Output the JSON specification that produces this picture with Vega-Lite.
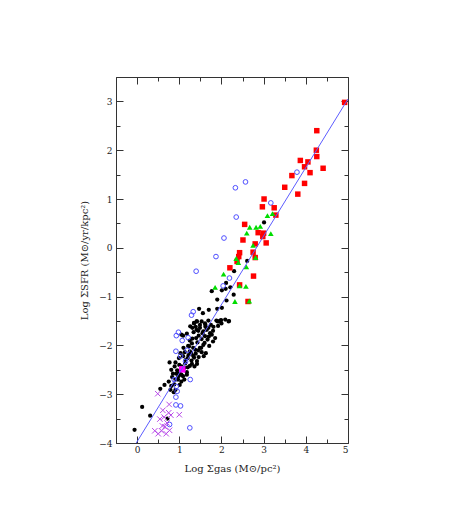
{
  "$schema": "https://vega.github.io/schema/vega-lite/v6.json",
  "width": 232,
  "height": 366,
  "autosize": "none",
  "padding": {"left": 116, "top": 77, "right": 115, "bottom": 80},
  "background": "white",
  "config": {
    "view": {"stroke": "#333333", "strokeWidth": 1},
    "axis": {
      "labelFont": "DejaVu Serif",
      "titleFont": "DejaVu Serif",
      "labelFontSize": 9,
      "titleFontSize": 10,
      "titleFontWeight": "normal",
      "labelColor": "#222222",
      "titleColor": "#222222",
      "tickColor": "#333333",
      "tickWidth": 1,
      "domain": false,
      "grid": false
    }
  },
  "resolve": {"axis": {"x": "independent", "y": "independent"}},
  "datasets": {
    "pts": [
      {"g": "r", "x": 4.92, "y": 2.98}, {"g": "r", "x": 4.26, "y": 2.40}, {"g": "r", "x": 4.25, "y": 2.00}, {"g": "r", "x": 4.26, "y": 1.87},
      {"g": "r", "x": 4.41, "y": 1.63}, {"g": "r", "x": 3.87, "y": 1.79}, {"g": "r", "x": 4.05, "y": 1.76}, {"g": "r", "x": 3.97, "y": 1.66},
      {"g": "r", "x": 4.10, "y": 1.54}, {"g": "r", "x": 3.67, "y": 1.48}, {"g": "r", "x": 3.97, "y": 1.32}, {"g": "r", "x": 3.50, "y": 1.24},
      {"g": "r", "x": 3.81, "y": 1.10}, {"g": "r", "x": 3.01, "y": 1.00}, {"g": "r", "x": 2.97, "y": 0.84}, {"g": "r", "x": 3.25, "y": 0.82},
      {"g": "r", "x": 2.55, "y": 0.48}, {"g": "r", "x": 2.87, "y": 0.31}, {"g": "r", "x": 3.00, "y": 0.30}, {"g": "r", "x": 2.98, "y": 0.23},
      {"g": "r", "x": 2.51, "y": 0.16}, {"g": "r", "x": 3.06, "y": 0.10}, {"g": "r", "x": 2.80, "y": 0.08}, {"g": "r", "x": 2.75, "y": -0.09},
      {"g": "r", "x": 2.43, "y": -0.10}, {"g": "r", "x": 2.41, "y": -0.18}, {"g": "r", "x": 2.37, "y": -0.28}, {"g": "r", "x": 2.20, "y": -0.41},
      {"g": "r", "x": 2.76, "y": -0.58}, {"g": "r", "x": 2.43, "y": -0.76}, {"g": "r", "x": 2.63, "y": -1.10}, {"g": "r", "x": 2.80, "y": -0.20},
      {"g": "r", "x": 3.29, "y": 0.67},
      {"g": "k", "x": 3.01, "y": 0.52}, {"g": "k", "x": 2.61, "y": -0.27}, {"g": "k", "x": 2.30, "y": -0.48}, {"g": "k", "x": 2.11, "y": -0.72},
      {"g": "k", "x": 2.21, "y": -0.81}, {"g": "k", "x": 1.77, "y": -0.89}, {"g": "k", "x": 2.01, "y": -0.87}, {"g": "k", "x": 2.10, "y": -0.84},
      {"g": "k", "x": 2.29, "y": -0.96}, {"g": "k", "x": 1.90, "y": -1.06}, {"g": "k", "x": 2.12, "y": -1.08}, {"g": "k", "x": 2.01, "y": -1.23},
      {"g": "k", "x": 1.90, "y": -1.25}, {"g": "k", "x": 1.70, "y": -1.27}, {"g": "k", "x": 1.47, "y": -1.25}, {"g": "k", "x": 1.56, "y": -1.34},
      {"g": "k", "x": 1.99, "y": -1.48}, {"g": "k", "x": 1.94, "y": -1.51}, {"g": "k", "x": 1.91, "y": -1.51}, {"g": "k", "x": 2.17, "y": -1.51},
      {"g": "k", "x": 1.41, "y": -1.51}, {"g": "k", "x": 1.35, "y": -1.55}, {"g": "k", "x": 1.62, "y": -1.58}, {"g": "k", "x": 1.81, "y": -1.62},
      {"g": "k", "x": 1.31, "y": -1.64}, {"g": "k", "x": 1.39, "y": -1.62}, {"g": "k", "x": 1.69, "y": -1.64},
      {"g": "k", "x": 1.26, "y": -1.61}, {"g": "k", "x": 1.35, "y": -1.54}, {"g": "k", "x": 1.42, "y": -1.51}, {"g": "k", "x": 1.49, "y": -1.58},
      {"g": "k", "x": 1.53, "y": -1.51}, {"g": "k", "x": 1.61, "y": -1.55}, {"g": "k", "x": 1.69, "y": -1.49}, {"g": "k", "x": 1.75, "y": -1.58},
      {"g": "k", "x": 1.88, "y": -1.49}, {"g": "k", "x": 1.98, "y": -1.49}, {"g": "k", "x": 2.09, "y": -1.47}, {"g": "k", "x": 2.18, "y": -1.50},
      {"g": "k", "x": 1.05, "y": -1.78}, {"g": "k", "x": 1.18, "y": -1.76}, {"g": "k", "x": 1.34, "y": -1.73}, {"g": "k", "x": 1.41, "y": -1.68},
      {"g": "k", "x": 1.49, "y": -1.64}, {"g": "k", "x": 1.57, "y": -1.71}, {"g": "k", "x": 1.65, "y": -1.68}, {"g": "k", "x": 1.73, "y": -1.75},
      {"g": "k", "x": 1.77, "y": -1.78}, {"g": "k", "x": 1.61, "y": -1.81}, {"g": "k", "x": 1.46, "y": -1.80}, {"g": "k", "x": 1.53, "y": -1.87},
      {"g": "k", "x": 1.67, "y": -1.88}, {"g": "k", "x": 1.80, "y": -1.92}, {"g": "k", "x": 1.31, "y": -1.86}, {"g": "k", "x": 1.43, "y": -1.94},
      {"g": "k", "x": 1.30, "y": -1.96}, {"g": "k", "x": 1.21, "y": -2.01}, {"g": "k", "x": 1.57, "y": -1.99}, {"g": "k", "x": 1.71, "y": -2.01},
      {"g": "k", "x": 1.49, "y": -2.05}, {"g": "k", "x": 1.38, "y": -2.09}, {"g": "k", "x": 1.25, "y": -2.12}, {"g": "k", "x": 1.13, "y": -2.14},
      {"g": "k", "x": 1.03, "y": -2.16}, {"g": "k", "x": 1.39, "y": -2.17}, {"g": "k", "x": 1.53, "y": -2.14}, {"g": "k", "x": 1.63, "y": -2.16},
      {"g": "k", "x": 1.58, "y": -2.22}, {"g": "k", "x": 1.46, "y": -2.24}, {"g": "k", "x": 1.33, "y": -2.21}, {"g": "k", "x": 1.20, "y": -2.26},
      {"g": "k", "x": 1.09, "y": -2.22}, {"g": "k", "x": 0.99, "y": -2.26}, {"g": "k", "x": 0.91, "y": -2.35}, {"g": "k", "x": 0.77, "y": -2.35},
      {"g": "k", "x": 1.29, "y": -2.31}, {"g": "k", "x": 1.42, "y": -2.32}, {"g": "k", "x": 1.14, "y": -2.37}, {"g": "k", "x": 1.25, "y": -2.42},
      {"g": "k", "x": 1.36, "y": -2.43}, {"g": "k", "x": 1.05, "y": -2.43}, {"g": "k", "x": 0.89, "y": -2.43}, {"g": "k", "x": 0.81, "y": -2.50},
      {"g": "k", "x": 0.95, "y": -2.51}, {"g": "k", "x": 1.18, "y": -2.55}, {"g": "k", "x": 1.01, "y": -2.57}, {"g": "k", "x": 0.85, "y": -2.58},
      {"g": "k", "x": 0.83, "y": -2.65}, {"g": "k", "x": 0.98, "y": -2.63}, {"g": "k", "x": 1.09, "y": -2.63}, {"g": "k", "x": 0.91, "y": -2.70},
      {"g": "k", "x": 0.75, "y": -2.74}, {"g": "k", "x": 1.05, "y": -2.74}, {"g": "k", "x": 1.01, "y": -2.81}, {"g": "k", "x": 0.81, "y": -2.83},
      {"g": "k", "x": 0.65, "y": -2.81}, {"g": "k", "x": 0.55, "y": -2.89}, {"g": "k", "x": 0.79, "y": -2.91}, {"g": "k", "x": 0.91, "y": -2.91},
      {"g": "k", "x": 0.87, "y": -2.96}, {"g": "k", "x": -0.06, "y": -3.73}, {"g": "k", "x": 0.12, "y": -3.26}, {"g": "k", "x": 0.31, "y": -3.44},
      {"g": "k", "x": 0.72, "y": -3.50},
      {"g": "k", "x": 1.10, "y": -2.05}, {"g": "k", "x": 1.22, "y": -2.20}, {"g": "k", "x": 1.15, "y": -2.30}, {"g": "k", "x": 1.28, "y": -2.15},
      {"g": "k", "x": 1.35, "y": -2.25}, {"g": "k", "x": 1.45, "y": -2.10}, {"g": "k", "x": 1.52, "y": -2.05}, {"g": "k", "x": 1.60, "y": -1.95},
      {"g": "k", "x": 1.40, "y": -1.85}, {"g": "k", "x": 1.55, "y": -1.75}, {"g": "k", "x": 1.70, "y": -1.82}, {"g": "k", "x": 1.00, "y": -2.40},
      {"g": "k", "x": 1.12, "y": -2.46}, {"g": "k", "x": 0.93, "y": -2.58}, {"g": "k", "x": 1.05, "y": -2.60}, {"g": "k", "x": 1.20, "y": -2.45},
      {"g": "k", "x": 1.30, "y": -2.38}, {"g": "k", "x": 0.97, "y": -2.70}, {"g": "k", "x": 1.12, "y": -2.70}, {"g": "k", "x": 0.88, "y": -2.80},
      {"g": "k", "x": 1.45, "y": -1.70}, {"g": "k", "x": 1.62, "y": -1.62}, {"g": "k", "x": 1.80, "y": -1.70}, {"g": "k", "x": 1.92, "y": -1.60},
      {"g": "k", "x": 2.00, "y": -1.55}, {"g": "k", "x": 1.85, "y": -1.85}, {"g": "k", "x": 1.25, "y": -1.90}, {"g": "k", "x": 1.33, "y": -2.05},
      {"g": "k", "x": 1.42, "y": -2.38}, {"g": "k", "x": 1.18, "y": -2.60}, {"g": "k", "x": 1.09, "y": -1.80}, {"g": "k", "x": 1.23, "y": -2.02},
      {"g": "b", "x": 3.17, "y": 0.92}, {"g": "b", "x": 2.33, "y": 1.23}, {"g": "b", "x": 2.57, "y": 1.35}, {"g": "b", "x": 3.79, "y": 1.55},
      {"g": "b", "x": 2.35, "y": 0.63}, {"g": "b", "x": 2.06, "y": 0.20}, {"g": "b", "x": 1.87, "y": -0.18}, {"g": "b", "x": 1.40, "y": -0.48},
      {"g": "b", "x": 2.19, "y": -0.62}, {"g": "b", "x": 2.04, "y": -0.78}, {"g": "b", "x": 1.33, "y": -1.31}, {"g": "b", "x": 1.29, "y": -1.38},
      {"g": "b", "x": 0.98, "y": -1.73}, {"g": "b", "x": 0.93, "y": -1.80}, {"g": "b", "x": 1.07, "y": -1.90}, {"g": "b", "x": 1.21, "y": -1.84},
      {"g": "b", "x": 0.92, "y": -2.12}, {"g": "b", "x": 1.03, "y": -2.22}, {"g": "b", "x": 1.19, "y": -2.10}, {"g": "b", "x": 1.15, "y": -2.33},
      {"g": "b", "x": 1.26, "y": -2.70}, {"g": "b", "x": 0.88, "y": -2.70}, {"g": "b", "x": 0.93, "y": -2.84}, {"g": "b", "x": 0.95, "y": -2.94},
      {"g": "b", "x": 0.92, "y": -3.06}, {"g": "b", "x": 0.92, "y": -3.22}, {"g": "b", "x": 1.03, "y": -3.24}, {"g": "b", "x": 0.77, "y": -3.62},
      {"g": "b", "x": 1.25, "y": -3.69},
      {"g": "gr", "x": 3.21, "y": 0.70}, {"g": "gr", "x": 3.09, "y": 0.66}, {"g": "gr", "x": 2.67, "y": 0.42}, {"g": "gr", "x": 2.82, "y": 0.42},
      {"g": "gr", "x": 2.92, "y": 0.44}, {"g": "gr", "x": 2.60, "y": 0.30}, {"g": "gr", "x": 3.17, "y": 0.29}, {"g": "gr", "x": 2.75, "y": 0.05},
      {"g": "gr", "x": 2.35, "y": -0.22}, {"g": "gr", "x": 2.40, "y": -0.30}, {"g": "gr", "x": 2.59, "y": -0.39}, {"g": "gr", "x": 2.05, "y": -0.54},
      {"g": "gr", "x": 1.85, "y": -0.81}, {"g": "gr", "x": 2.43, "y": -0.78}, {"g": "gr", "x": 2.58, "y": -0.79}, {"g": "gr", "x": 2.32, "y": -1.10},
      {"g": "gr", "x": 2.66, "y": -1.09}, {"g": "gr", "x": 2.81, "y": -0.20},
      {"g": "p", "x": 0.49, "y": -2.99}, {"g": "p", "x": 0.76, "y": -3.21}, {"g": "p", "x": 1.00, "y": -3.42}, {"g": "p", "x": 0.61, "y": -3.33},
      {"g": "p", "x": 0.54, "y": -3.51}, {"g": "p", "x": 0.71, "y": -3.59}, {"g": "p", "x": 0.66, "y": -3.67}, {"g": "p", "x": 0.58, "y": -3.75},
      {"g": "p", "x": 0.42, "y": -3.75}, {"g": "p", "x": 0.50, "y": -3.81}, {"g": "p", "x": 0.69, "y": -3.81}, {"g": "p", "x": 0.77, "y": -3.74},
      {"g": "p", "x": 0.80, "y": -3.43}, {"g": "p", "x": 0.60, "y": -3.65}, {"g": "p", "x": 0.75, "y": -3.38}, {"g": "p", "x": 0.64, "y": -3.47},
      {"g": "m", "x": 1.07, "y": -2.49}
    ],
    "fit": [{"x": -0.02, "y": -4.0}, {"x": 5.0, "y": 3.05}]
  },
  "layer": [
    {
      "data": {"name": "pts"},
      "transform": [{"filter": "datum.g === 'k'"}],
      "mark": {"type": "point", "shape": "circle", "filled": true, "color": "#000000", "size": 18, "opacity": 1},
      "encoding": {
        "x": {"field": "x", "type": "quantitative", "scale": {"domain": [-0.5, 5], "nice": false, "zero": false},
          "axis": {"orient": "bottom", "values": [0, 1, 2, 3, 4, 5], "format": "d",
            "labelPadding": 9, "tickSize": -7, "title": "Log Σgas   (M⊙/pc²)", "titlePadding": 9}},
        "y": {"field": "y", "type": "quantitative", "scale": {"domain": [-4, 3.5], "nice": false, "zero": false},
          "axis": {"orient": "left", "values": [-4, -3, -2, -1, 0, 1, 2, 3], "format": "d",
            "labelPadding": 11, "tickSize": -7, "title": "Log ΣSFR   (M⊙/yr/kpc²)", "titlePadding": 9}}
      }
    },
    {
      "data": {"name": "pts"},
      "transform": [{"filter": "datum.g === 'b'"}],
      "mark": {"type": "point", "shape": "circle", "filled": false, "stroke": "#4f4fff", "strokeWidth": 1, "size": 22, "opacity": 1},
      "encoding": {
        "x": {"field": "x", "type": "quantitative",
          "axis": {"orient": "bottom", "values": [-0.5, 0.5, 1.5, 2.5, 3.5, 4.5], "labels": false, "tickSize": -4, "title": null}},
        "y": {"field": "y", "type": "quantitative",
          "axis": {"orient": "left", "values": [-3.5, -2.5, -1.5, -0.5, 0.5, 1.5, 2.5, 3.5], "labels": false, "tickSize": -4, "title": null}}
      }
    },
    {
      "data": {"name": "pts"},
      "transform": [{"filter": "datum.g === 'r'"}],
      "mark": {"type": "point", "shape": "square", "filled": true, "color": "#ff0000", "size": 30, "opacity": 1},
      "encoding": {
        "x": {"field": "x", "type": "quantitative",
          "axis": {"orient": "top", "values": [0, 1, 2, 3, 4, 5], "labels": false, "tickSize": -7, "title": null}},
        "y": {"field": "y", "type": "quantitative",
          "axis": {"orient": "right", "values": [-4, -3, -2, -1, 0, 1, 2, 3], "labels": false, "tickSize": -7, "title": null}}
      }
    },
    {
      "data": {"name": "pts"},
      "transform": [{"filter": "datum.g === 'gr'"}],
      "mark": {"type": "point", "shape": "triangle-up", "filled": true, "color": "#00dd00", "size": 32, "opacity": 1},
      "encoding": {
        "x": {"field": "x", "type": "quantitative",
          "axis": {"orient": "top", "values": [-0.5, 0.5, 1.5, 2.5, 3.5, 4.5], "labels": false, "tickSize": -4, "title": null}},
        "y": {"field": "y", "type": "quantitative",
          "axis": {"orient": "right", "values": [-3.5, -2.5, -1.5, -0.5, 0.5, 1.5, 2.5, 3.5], "labels": false, "tickSize": -4, "title": null}}
      }
    },
    {
      "data": {"name": "pts"},
      "transform": [{"filter": "datum.g === 'p'"}],
      "mark": {"type": "point", "shape": "M-1,-1L1,1M-1,1L1,-1", "filled": false, "stroke": "#b84ce8", "strokeWidth": 1, "size": 30, "opacity": 1},
      "encoding": {"x": {"field": "x", "type": "quantitative", "axis": null}, "y": {"field": "y", "type": "quantitative", "axis": null}}
    },
    {
      "data": {"name": "pts"},
      "transform": [{"filter": "datum.g === 'm'"}],
      "mark": {"type": "point", "shape": "square", "filled": true, "color": "#ff00ff", "size": 42, "opacity": 1},
      "encoding": {"x": {"field": "x", "type": "quantitative", "axis": null}, "y": {"field": "y", "type": "quantitative", "axis": null}}
    },
    {
      "data": {"name": "fit"},
      "mark": {"type": "line", "color": "#5c5cff", "strokeWidth": 1},
      "encoding": {"x": {"field": "x", "type": "quantitative", "axis": null}, "y": {"field": "y", "type": "quantitative", "axis": null}}
    }
  ]
}
